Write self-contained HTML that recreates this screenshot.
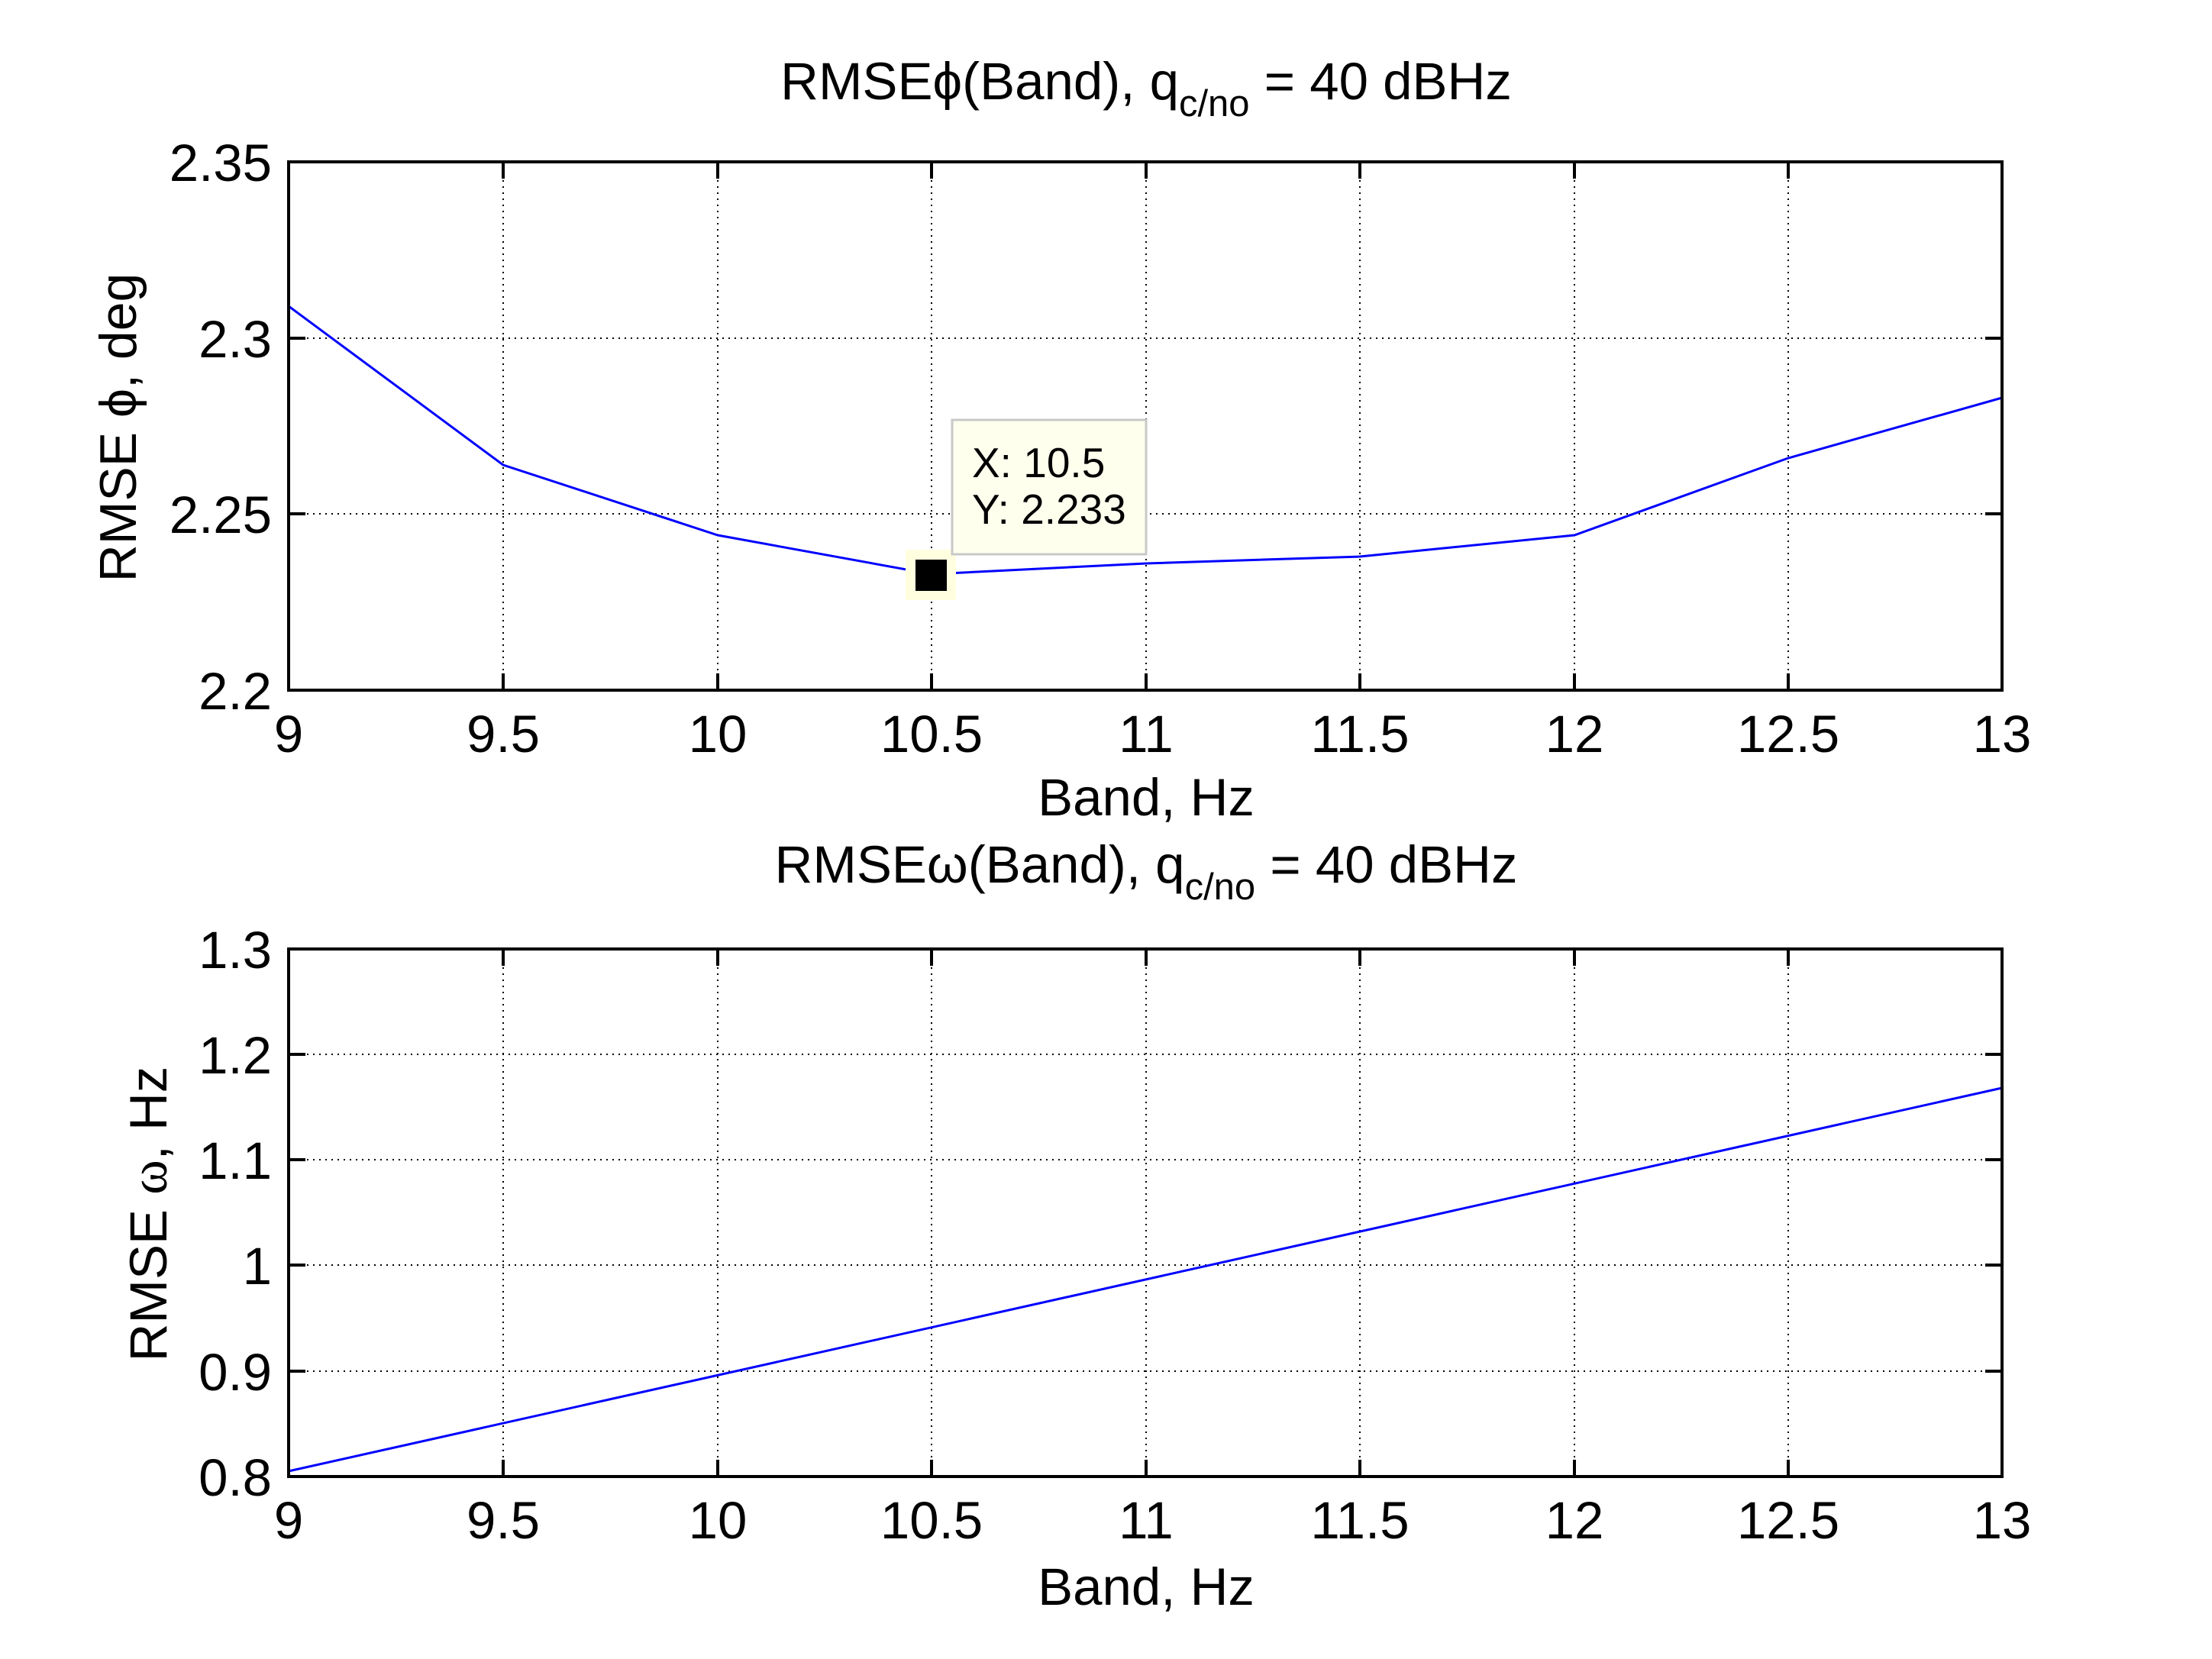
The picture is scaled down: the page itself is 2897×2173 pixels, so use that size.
<!DOCTYPE html>
<html><head><meta charset="utf-8"><style>
html,body{margin:0;padding:0;background:#fff;}
svg{display:block;}
text{font-family:"Liberation Sans",Arial,sans-serif;fill:#000;}
</style></head><body>
<svg width="2897" height="2173" viewBox="0 0 2897 2173" xmlns="http://www.w3.org/2000/svg">
<rect width="2897" height="2173" fill="#fff"/>
<!-- TOP AXES -->
<g stroke="#000" stroke-width="2" stroke-dasharray="2,6" fill="none">
<path d="M659 212V904M940 212V904M1220 212V904M1501 212V904M1781 212V904M2062 212V904M2342 212V904"/>
<path d="M378 443H2622M378 673H2622"/>
</g>
<polyline fill="none" stroke="#0000ff" stroke-width="3" points="378,401 659,609 940,701 1220,752 1501,738 1781,729 2062,701 2342,600 2622,521"/>
<rect x="378" y="212" width="2244" height="692" fill="none" stroke="#000" stroke-width="4"/>
<g stroke="#000" stroke-width="4">
<path d="M659 212v22M940 212v22M1220 212v22M1501 212v22M1781 212v22M2062 212v22M2342 212v22"/>
<path d="M659 904v-22M940 904v-22M1220 904v-22M1501 904v-22M1781 904v-22M2062 904v-22M2342 904v-22"/>
<path d="M378 443h22M378 673h22M2622 443h-22M2622 673h-22"/>
</g>
<g font-size="69" text-anchor="end">
<text x="356" y="237">2.35</text><text x="356" y="468">2.3</text><text x="356" y="698">2.25</text><text x="356" y="929">2.2</text>
</g>
<g font-size="69" text-anchor="middle">
<text x="378" y="985">9</text><text x="659" y="985">9.5</text><text x="940" y="985">10</text><text x="1220" y="985">10.5</text><text x="1501" y="985">11</text><text x="1781" y="985">11.5</text><text x="2062" y="985">12</text><text x="2342" y="985">12.5</text><text x="2622" y="985">13</text>
<text x="1501" y="1068">Band, Hz</text>
</g>
<text x="1501" y="130" font-size="69" text-anchor="middle">RMSEϕ(Band), q<tspan font-size="49" dy="22">c/no</tspan><tspan dy="-22"> = 40 dBHz</tspan></text>
<text transform="translate(178,560) rotate(-90)" font-size="68" text-anchor="middle">RMSE ϕ, deg</text>
<!-- data tip -->
<rect x="1186" y="720" width="66" height="66" fill="#ffffe0"/>
<rect x="1199" y="733" width="41" height="41" fill="#000"/>
<rect x="1247" y="550" width="254" height="176" fill="#ffffee" stroke="#c8c8c8" stroke-width="3"/>
<text x="1273" y="625" font-size="55">X: 10.5</text>
<text x="1273" y="686" font-size="55">Y: 2.233</text>
<!-- BOTTOM AXES -->
<g stroke="#000" stroke-width="2" stroke-dasharray="2,6" fill="none">
<path d="M659 1243V1934M940 1243V1934M1220 1243V1934M1501 1243V1934M1781 1243V1934M2062 1243V1934M2342 1243V1934"/>
<path d="M378 1381H2622M378 1519H2622M378 1657H2622M378 1796H2622"/>
</g>
<polyline fill="none" stroke="#0000ff" stroke-width="3" points="378,1927 2622,1425"/>
<rect x="378" y="1243" width="2244" height="691" fill="none" stroke="#000" stroke-width="4"/>
<g stroke="#000" stroke-width="4">
<path d="M659 1243v22M940 1243v22M1220 1243v22M1501 1243v22M1781 1243v22M2062 1243v22M2342 1243v22"/>
<path d="M659 1934v-22M940 1934v-22M1220 1934v-22M1501 1934v-22M1781 1934v-22M2062 1934v-22M2342 1934v-22"/>
<path d="M378 1381h22M378 1519h22M378 1657h22M378 1796h22M2622 1381h-22M2622 1519h-22M2622 1657h-22M2622 1796h-22"/>
</g>
<g font-size="69" text-anchor="end">
<text x="356" y="1268">1.3</text><text x="356" y="1406">1.2</text><text x="356" y="1544">1.1</text><text x="356" y="1682">1</text><text x="356" y="1821">0.9</text><text x="356" y="1959">0.8</text>
</g>
<g font-size="69" text-anchor="middle">
<text x="378" y="2015">9</text><text x="659" y="2015">9.5</text><text x="940" y="2015">10</text><text x="1220" y="2015">10.5</text><text x="1501" y="2015">11</text><text x="1781" y="2015">11.5</text><text x="2062" y="2015">12</text><text x="2342" y="2015">12.5</text><text x="2622" y="2015">13</text>
<text x="1501" y="2102">Band, Hz</text>
</g>
<text x="1501" y="1156" font-size="69" text-anchor="middle">RMSEω(Band), q<tspan font-size="49" dy="22">c/no</tspan><tspan dy="-22"> = 40 dBHz</tspan></text>
<text transform="translate(218,1590) rotate(-90)" font-size="69" text-anchor="middle">RMSE <tspan font-family="Liberation Serif,serif">ω</tspan>, Hz</text>
</svg>
</body></html>
